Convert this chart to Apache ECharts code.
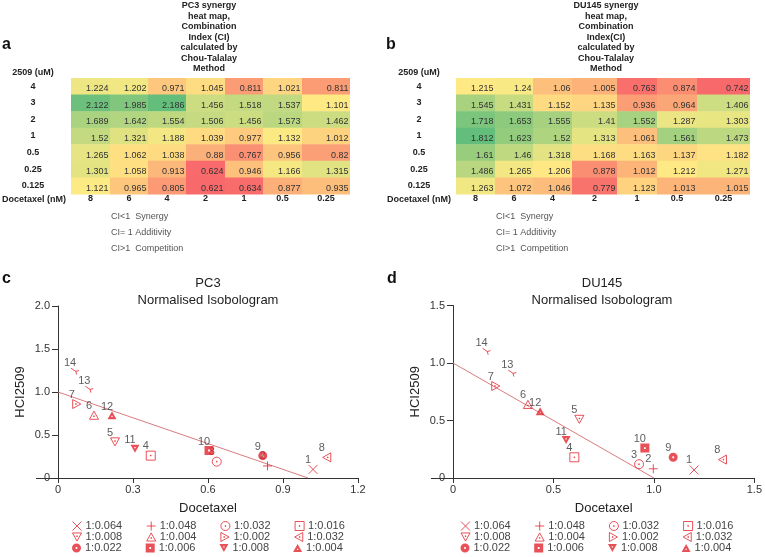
<!DOCTYPE html>
<html><head><meta charset="utf-8">
<script src="https://cdn.jsdelivr.net/npm/echarts@6/dist/echarts.min.js"></script>
<style>html,body{margin:0;padding:0;background:#fff}#chart{width:765px;height:557px}</style>
</head><body><div id="chart"></div>
<script>
// ================= DATA =================
const docetaxelLabels = ['8', '6', '4', '2', '1', '0.5', '0.25'];      // nM, columns
const hci2509Labels = ['4', '3', '2', '1', '0.5', '0.25', '0.125'];    // uM, rows (top to bottom)

// Combination index, PC3 (rows = 2509 dose, cols = docetaxel dose)
const ciPC3 = [
  [1.224, 1.202, 0.971, 1.045, 0.811, 1.021, 0.811],
  [2.122, 1.985, 2.186, 1.456, 1.518, 1.537, 1.101],
  [1.689, 1.642, 1.554, 1.506, 1.456, 1.573, 1.462],
  [1.52, 1.321, 1.188, 1.039, 0.977, 1.132, 1.012],
  [1.265, 1.062, 1.038, 0.88, 0.767, 0.956, 0.82],
  [1.301, 1.058, 0.913, 0.624, 0.946, 1.166, 1.315],
  [1.121, 0.965, 0.805, 0.621, 0.634, 0.877, 0.935]
];
// Combination index, DU145
const ciDU145 = [
  [1.215, 1.24, 1.06, 1.005, 0.763, 0.874, 0.742],
  [1.545, 1.431, 1.152, 1.135, 0.936, 0.964, 1.406],
  [1.718, 1.653, 1.555, 1.41, 1.552, 1.287, 1.303],
  [1.812, 1.623, 1.52, 1.313, 1.061, 1.561, 1.473],
  [1.61, 1.46, 1.318, 1.168, 1.163, 1.137, 1.182],
  [1.486, 1.265, 1.206, 0.878, 1.012, 1.212, 1.271],
  [1.263, 1.072, 1.046, 0.779, 1.123, 1.013, 1.015]
];

// Isobologram points 1..14 (normalised docetaxel, normalised HCI2509)
const pointIds = ['1','2','3','4','5','6','7','8','9','10','11','12','13','14'];
const ratioLabels = ['1:0.064','1:0.048','1:0.032','1:0.016','1:0.008','1:0.004','1:0.002','1:0.032','1:0.022','1:0.006','1:0.008','1:0.004','1:0.024','1:0.016'];
const pc3IsoX = [1.02, 0.838, 0.635, 0.371, 0.228, 0.144, 0.075, 1.075, 0.819, 0.604, 0.308, 0.216, 0.125, 0.068];
const pc3IsoY = [0.10, 0.14, 0.19, 0.26, 0.42, 0.73, 0.86, 0.24, 0.26, 0.32, 0.34, 0.73, 1.03, 1.24];
const du145IsoX = [1.20, 0.997, 0.926, 0.604, 0.629, 0.373, 0.213, 1.341, 1.096, 0.955, 0.563, 0.434, 0.295, 0.167];
const du145IsoY = [0.07, 0.08, 0.12, 0.18, 0.51, 0.64, 0.80, 0.16, 0.18, 0.26, 0.33, 0.58, 0.91, 1.10];
// Line of additivity
const additivityX = [0, 1];
const additivityY = [1, 0];

// ================= LAYOUT / STYLE =================
const FONT = '"Liberation Sans", Arial, Helvetica, sans-serif';
// cumulative column edges (px) of the Excel-like tables
const colEdgesA = [0, 39, 77, 115, 154, 192, 231, 279];
const colEdgesB = [0, 39, 77, 116, 161, 201, 241, 294];
const RED = '#e3262f';
const LINE_RED = '#d97b7d';
const C_LOW = [248, 105, 107], C_MID = [255, 235, 132], C_HIGH = [99, 190, 123];

const SYMBOLS = {
  cross:      {p: 'path://M0,0L10,10M10,0L0,10', filled: false, size: 9},
  plus:       {p: 'path://M5,0L5,10M0,5L10,5', filled: false, size: 9},
  circleDot:  {p: 'path://M5,0A5,5 0 1 1 4.99,0ZM4.6,4.6h0.8v0.8h-0.8Z', filled: false, size: 9},
  squareDot:  {p: 'path://M0,0H10V10H0ZM4.6,4.6h0.8v0.8h-0.8Z', filled: false, size: 9},
  triDownDot: {p: 'path://M0,0H10L5,9ZM4.6,3.2h0.8v0.8h-0.8Z', filled: false, size: 9},
  triUpDot:   {p: 'path://M5,0L10,9H0ZM4.6,5.2h0.8v0.8h-0.8Z', filled: false, size: 9},
  triRightDot:{p: 'path://M0,0L9,5L0,10ZM3.2,4.6h0.8v0.8h-0.8Z', filled: false, size: 9},
  triLeftDot: {p: 'path://M9,0L0,5L9,10ZM5.2,4.6h0.8v0.8h-0.8Z', filled: false, size: 9},
  circleFill: {p: 'path://M5,0A5,5 0 1 1 4.99,0ZM5,3.8A1.2,1.2 0 1 0 5.01,3.8Z', filled: true, size: 9},
  squareFill: {p: 'path://M0,0H10V10H0ZM4,4V6H6V4Z', filled: true, size: 9},
  triDownFill:{p: 'path://M0,0H10L5,9ZM4.3,2.6V4H5.7V2.6Z', filled: true, size: 9},
  triUpFill:  {p: 'path://M5,0L10,9H0ZM4.3,5.2V6.6H5.7V5.2Z', filled: true, size: 9},
  tick:       {p: 'path://M0,0L6,4L10,3M6,4L7,8', filled: false, size: 8}
};
const pointSymbolKeys = ['cross','plus','circleDot','squareDot','triDownDot','triUpDot','triRightDot','triLeftDot','circleFill','squareFill','triDownFill','triUpFill','tick','tick'];

// Excel-like 3-colour scale (min red, 50th percentile yellow, max green)
function mix(a, b, t) {
  t = Math.max(0, Math.min(1, t));
  return 'rgb(' + a.map((v, i) => Math.round(v + (b[i] - v) * t)).join(',') + ')';
}
function colourScale(matrix) {
  const vals = [].concat(...matrix).sort((a, b) => a - b);
  const n = vals.length, min = vals[0], max = vals[n - 1];
  const mid = n % 2 ? vals[(n - 1) / 2] : (vals[n / 2 - 1] + vals[n / 2]) / 2;
  const stops = [];
  const N = 61;
  for (let i = 0; i < N; i++) {
    const v = min + (max - min) * i / (N - 1);
    stops.push(v <= mid ? mix(C_LOW, C_MID, (v - min) / (mid - min)) : mix(C_MID, C_HIGH, (v - mid) / (max - mid)));
  }
  return {min, max, stops};
}

function cellSeries(idx, matrix, edges) {
  const data = [];
  matrix.forEach((row, r) => row.forEach((v, c) => data.push([edges[c], edges[c + 1], r, v])));
  return {
    type: 'custom', xAxisIndex: idx, yAxisIndex: idx, data,
    encode: {x: [0, 1], y: 2},
    silent: true,
    renderItem(params, api) {
      const p0 = api.coord([api.value(0), api.value(2)]);
      const p1 = api.coord([api.value(1), api.value(2)]);
      const h = api.size([0, 1])[1];
      return {
        type: 'group', children: [
          {type: 'rect', shape: {x: p0[0], y: p0[1] - h / 2, width: p1[0] - p0[0], height: h + 0.5},
           style: {fill: api.visual('color')}},
          {type: 'text', x: p1[0] - 1.5, y: p0[1] + 2.5,
           style: {text: String(api.value(3)), align: 'right', verticalAlign: 'middle',
                   textAlign: 'right', textVerticalAlign: 'middle',
                   fill: '#333', font: '9px ' + FONT}}
        ]
      };
    }
  };
}

function tableAxes(idx, edges, labelMargin) {
  const mids = edges.slice(0, -1).map((e, i) => (e + edges[i + 1]) / 2);
  return {
    x: {
      type: 'value', gridIndex: idx, min: 0, max: edges[edges.length - 1],
      axisLine: {show: false}, axisTick: {show: false}, splitLine: {show: false},
      axisLabel: {
        customValues: mids, margin: 0, fontSize: 9, fontWeight: 'bold', color: '#222',
        formatter: v => {
          let best = 0;
          mids.forEach((m, i) => { if (Math.abs(m - v) < Math.abs(mids[best] - v)) best = i; });
          return docetaxelLabels[best];
        }
      }
    },
    y: {
      type: 'category', gridIndex: idx, data: hci2509Labels, inverse: true,
      axisLine: {show: false}, axisTick: {show: false}, splitLine: {show: false},
      axisLabel: {align: 'center', margin: labelMargin, fontSize: 9, fontWeight: 'bold', color: '#222',
                  padding: [5, 0, 0, 0]}
    }
  };
}

function isoSeries(idx, xs, ys) {
  const out = [{
    type: 'line', xAxisIndex: idx, yAxisIndex: idx, silent: true, z: 2,
    data: additivityX.map((x, i) => [x, additivityY[i]]),
    symbol: 'none', lineStyle: {color: LINE_RED, width: 1}
  }];
  xs.forEach((x, i) => {
    const s = SYMBOLS[pointSymbolKeys[i]];
    out.push({
      type: 'scatter', name: pointIds[i], xAxisIndex: idx, yAxisIndex: idx, z: s.filled ? 4 : 3,
      data: [[x, ys[i]]], symbol: s.p, symbolSize: s.size, symbolKeepAspect: true,
      itemStyle: s.filled ? {color: RED, borderWidth: 0}
                          : {color: 'transparent', borderColor: RED, borderWidth: 1},
      label: {show: true, formatter: pointIds[i], position: 'top', distance: 0, offset: [-5, 1],
              color: '#333', fontSize: 11},
      emphasis: {disabled: true}
    });
  });
  return out;
}

function isoAxes(idx, xMax, xInterval, yMax) {
  const fmt = v => (v === 0 ? '0' : v.toFixed(1));
  return {
    x: {
      type: 'value', gridIndex: idx, min: 0, max: xMax, interval: xInterval,
      axisLine: {show: true, onZero: false, lineStyle: {color: '#333'}},
      axisTick: {show: true, length: 5, lineStyle: {color: '#333'}},
      axisLabel: {formatter: fmt, fontSize: 11, color: '#333', margin: 6,
                  showMinLabel: true, showMaxLabel: true},
      splitLine: {show: false},
      name: 'Docetaxel', nameLocation: 'middle', nameGap: 23.5, nameMoveOverlap: false,
      nameTextStyle: {fontSize: 13, color: '#222'}
    },
    y: {
      type: 'value', gridIndex: idx, min: 0, max: yMax, interval: 0.5,
      axisLine: {show: true, onZero: false, lineStyle: {color: '#333'}},
      axisTick: {show: true, length: 6, lineStyle: {color: '#333'}},
      axisLabel: {formatter: fmt, fontSize: 11, color: '#333', margin: 8,
                  showMinLabel: true, showMaxLabel: true},
      splitLine: {show: false},
      name: 'HCI2509', nameLocation: 'middle', nameGap: 31.5, nameRotate: 90, nameMoveOverlap: false,
      nameTextStyle: {fontSize: 13, color: '#222'}
    }
  };
}

function legendRows(left, tops) {
  const rows = [pointIds.slice(0, 4), pointIds.slice(4, 8), pointIds.slice(8, 12)];
  return rows.map((ids, r) => ({
    data: ids, left: left, top: tops[r], orient: 'horizontal',
    itemWidth: 9, itemHeight: 9, itemGap: 24, padding: 0, selectedMode: false,
    itemStyle: {borderWidth: 1},
    formatter: name => ratioLabels[pointIds.indexOf(name)],
    textStyle: {fontSize: 11, color: '#444', lineHeight: 11, padding: [0, 0, 0, -1]}
  }));
}

// ================= BUILD =================
const scaleA = colourScale(ciPC3);
const scaleB = colourScale(ciDU145);
const tA = tableAxes(0, colEdgesA, 38);
const tB = tableAxes(1, colEdgesB, 37);
const iC = isoAxes(2, 1.2, 0.3, 2.0);
const iD = isoAxes(3, 1.5, 0.5, 1.5);

const titleFont = 'bold 9px ' + FONT;
function txt(x, y, text, font, align, color, lh) {
  return {type: 'text', x, y, silent: true,
          style: {text, font, fill: color || '#222', align: align || 'left', verticalAlign: 'middle',
                  textAlign: align || 'left', textVerticalAlign: 'middle', lineHeight: lh}};
}
function ciLegend(x) {
  return [
    txt(x, 217, 'CI<1  Synergy', '9px ' + FONT, 'left', '#555'),
    txt(x, 233, 'CI= 1 Additivity', '9px ' + FONT, 'left', '#555'),
    txt(x, 249, 'CI>1  Competition', '9px ' + FONT, 'left', '#555')
  ];
}
// short extension of the x axis line to the left of the y axis (R style)
function axisStub(x1, x2, y) {
  return {type: 'line', silent: true, shape: {x1, y1: y + 0.5, x2, y2: y + 0.5},
          style: {stroke: '#333', lineWidth: 1}};
}

const option = {
  animation: false,
  textStyle: {fontFamily: FONT},
  grid: [
    {left: 71, top: 78, width: 279, height: 116},
    {left: 456, top: 78, width: 294, height: 116},
    {left: 58, top: 306, width: 300, height: 172},
    {left: 453, top: 305.5, width: 303, height: 172.5}
  ],
  xAxis: [tA.x, tB.x, iC.x, iD.x],
  yAxis: [tA.y, tB.y, iC.y, iD.y],
  visualMap: [
    {type: 'continuous', show: false, seriesIndex: 0, dimension: 3, min: scaleA.min, max: scaleA.max,
     inRange: {color: scaleA.stops}},
    {type: 'continuous', show: false, seriesIndex: 1, dimension: 3, min: scaleB.min, max: scaleB.max,
     inRange: {color: scaleB.stops}}
  ],
  legend: [].concat(legendRows(72, [520.5, 531.5, 542.5]), legendRows(460.5, [520.5, 531.5, 542.5])),
  series: [].concat(
    [cellSeries(0, ciPC3, colEdgesA), cellSeries(1, ciDU145, colEdgesB)],
    isoSeries(2, pc3IsoX, pc3IsoY),
    isoSeries(3, du145IsoX, du145IsoY)
  ),
  graphic: [].concat([
    axisStub(36, 58, 478),
    axisStub(431, 453, 478),
    txt(2, 45, 'a', 'bold 16px ' + FONT, 'left', '#111'),
    txt(386, 45, 'b', 'bold 16px ' + FONT, 'left', '#111'),
    txt(2, 279, 'c', 'bold 16px ' + FONT, 'left', '#111'),
    txt(387, 279, 'd', 'bold 16px ' + FONT, 'left', '#111'),
    {type: 'text', x: 209, y: 0.5, silent: true,
     style: {text: 'PC3 synergy\nheat map,\nCombination\nIndex (CI)\ncalculated by\nChou-Talalay\nMethod',
             font: titleFont, fill: '#222', align: 'center', textAlign: 'center', verticalAlign: 'top',
             textVerticalAlign: 'top', lineHeight: 10.5}},
    {type: 'text', x: 606, y: 0.5, silent: true,
     style: {text: 'DU145 synergy\nheat map,\nCombination\nIndex(CI)\ncalculated by\nChou-Talalay\nMethod',
             font: titleFont, fill: '#222', align: 'center', textAlign: 'center', verticalAlign: 'top',
             textVerticalAlign: 'top', lineHeight: 10.5}},
    txt(33, 73, '2509 (uM)', titleFont, 'center'),
    txt(419, 73, '2509 (uM)', titleFont, 'center'),
    txt(34, 199.5, 'Docetaxel (nM)', titleFont, 'center'),
    txt(419, 199.5, 'Docetaxel (nM)', titleFont, 'center'),
    txt(208, 283, 'PC3', '13px ' + FONT, 'center', '#222'),
    txt(208, 300, 'Normalised Isobologram', '13px ' + FONT, 'center', '#222'),
    txt(602, 283, 'DU145', '13px ' + FONT, 'center', '#222'),
    txt(602, 300, 'Normalised Isobologram', '13px ' + FONT, 'center', '#222')
  ], ciLegend(111), ciLegend(496))
};

const chart = echarts.init(document.getElementById('chart'), null, {renderer: 'canvas'});
chart.setOption(option);
</script>
</body></html>
